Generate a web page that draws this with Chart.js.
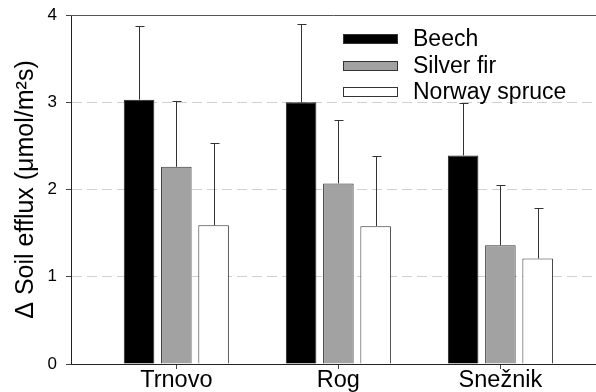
<!DOCTYPE html>
<html>
<head>
<meta charset="utf-8">
<script src="https://cdn.jsdelivr.net/npm/chart.js@4.4.1/dist/chart.umd.min.js"></script>
<style>
  html, body { margin: 0; padding: 0; background: #fff; }
</style>
</head>
<body>
<canvas id="effluxChart" width="596" height="392"></canvas>
<script>
const sites = ["Trnovo", "Rog", "Snežnik"];
const seriesNames = ["Beech", "Silver fir", "Norway spruce"];
const beech = [3.03, 3.0, 2.39];
const beechErr = [0.84, 0.9, 0.6];
const silverFir = [2.26, 2.07, 1.36];
const silverFirErr = [0.76, 0.73, 0.69];
const spruce = [1.59, 1.58, 1.21];
const spruceErr = [0.94, 0.8, 0.58];
const yTicks = [0, 1, 2, 3, 4];

const fontFamily = '"Liberation Sans", Arial, Helvetica, sans-serif';
Chart.defaults.font.family = fontFamily;
Chart.defaults.color = "#000";

function toPoints(values) {
  return values.map((v, i) => ({ x: i, y: v }));
}

// upper error bars only, drawn from the bar top
const errorBars = {
  id: "errorBars",
  afterDatasetsDraw(chart) {
    const { ctx } = chart;
    const yScale = chart.scales.y;
    ctx.save();
    ctx.strokeStyle = "#333";
    ctx.lineWidth = 1;
    chart.data.datasets.forEach((ds, d) => {
      chart.getDatasetMeta(d).data.forEach((bar, i) => {
        const top = Math.round(yScale.getPixelForValue(ds.data[i].y + ds.errors[i])) + 0.5;
        const x = Math.round(bar.x) + 0.5;
        ctx.beginPath();
        ctx.moveTo(x, bar.y);
        ctx.lineTo(x, top);
        ctx.moveTo(x - 4, top);
        ctx.lineTo(x + 5, top);
        ctx.stroke();
      });
    });
    ctx.restore();
  },
};

// top frame line + legend inside the plot
const frameAndLegend = {
  id: "frameAndLegend",
  beforeDatasetsDraw(chart) {
    const { ctx, chartArea } = chart;
    ctx.save();
    ctx.strokeStyle = "#555";
    ctx.lineWidth = 1;
    ctx.beginPath();
    ctx.moveTo(chartArea.left, Math.round(chartArea.top) + 0.5);
    ctx.lineTo(chartArea.right, Math.round(chartArea.top) + 0.5);
    ctx.stroke();
    ctx.restore();
  },
  afterDraw(chart) {
    const { ctx, chartArea } = chart;
    const boxLeft = chartArea.right - 253;
    const textLeft = chartArea.right - 183;
    ctx.save();
    ctx.font = "23px " + fontFamily;
    ctx.textBaseline = "middle";
    ctx.textAlign = "left";
    chart.data.datasets.forEach((ds, d) => {
      const cy = Math.round(chartArea.top + 24 + d * 26.5);
      ctx.fillStyle = ds.backgroundColor;
      ctx.fillRect(boxLeft, cy - 5, 55, 10);
      ctx.strokeStyle = "#333";
      ctx.lineWidth = 1;
      ctx.strokeRect(boxLeft + 0.5, cy - 4.5, 54, 9);
      ctx.fillStyle = "#000";
      ctx.fillText(ds.label, textLeft, cy + 1);
    });
    ctx.restore();
  },
};

new Chart(document.getElementById("effluxChart"), {
  type: "bar",
  data: {
    datasets: [
      {
        label: seriesNames[0],
        data: toPoints(beech),
        errors: beechErr,
        backgroundColor: "#000000",
        borderColor: "#222",
        borderWidth: 1,
      },
      {
        label: seriesNames[1],
        data: toPoints(silverFir),
        errors: silverFirErr,
        backgroundColor: "#a2a2a2",
        borderColor: "#333",
        borderWidth: 1,
      },
      {
        label: seriesNames[2],
        data: toPoints(spruce),
        errors: spruceErr,
        backgroundColor: "#ffffff",
        borderColor: "#333",
        borderWidth: 1,
      },
    ],
  },
  options: {
    responsive: false,
    animation: false,
    layout: { padding: { top: 15, right: 0, bottom: 0, left: 0 } },
    datasets: { bar: { categoryPercentage: 0.69, barPercentage: 0.82 } },
    plugins: {
      legend: { display: false },
      tooltip: { enabled: false },
    },
    scales: {
      x: {
        type: "linear",
        offset: false,
        min: -0.65,
        max: 2.59,
        afterBuildTicks: (s) => {
          s.ticks = sites.map((_, i) => ({ value: i }));
        },
        afterFit: (s) => {
          s.height = 28;
        },
        ticks: {
          callback: (v) => sites[v],
          autoSkip: false,
          maxRotation: 0,
          padding: 0,
          font: { size: 23.5, lineHeight: 1 },
        },
        grid: { offset: false, drawOnChartArea: false, tickLength: 5, tickColor: "#444" },
        border: { color: "#222", width: 1 },
      },
      y: {
        min: 0,
        max: 4,
        afterBuildTicks: (s) => {
          s.ticks = yTicks.map((v) => ({ value: v }));
        },
        afterFit: (s) => {
          s.width = 71;
          s.paddingTop = 0;
          s.paddingBottom = 0;
        },
        ticks: { padding: 9, font: { size: 17 } },
        grid: {
          color: (c) =>
            c.tick && c.tick.value > 0 && c.tick.value < 4 ? "#d0d0d0" : "rgba(0,0,0,0)",
          tickLength: 5,
          tickColor: "#444",
        },
        border: { color: "#222", width: 1, dash: [10, 5] },
        title: {
          display: true,
          text: "Δ Soil efflux (μmol/m²s)",
          font: { size: 25 },
          padding: { top: 11, bottom: 0 },
        },
      },
    },
  },
  plugins: [errorBars, frameAndLegend],
});
</script>
</body>
</html>
